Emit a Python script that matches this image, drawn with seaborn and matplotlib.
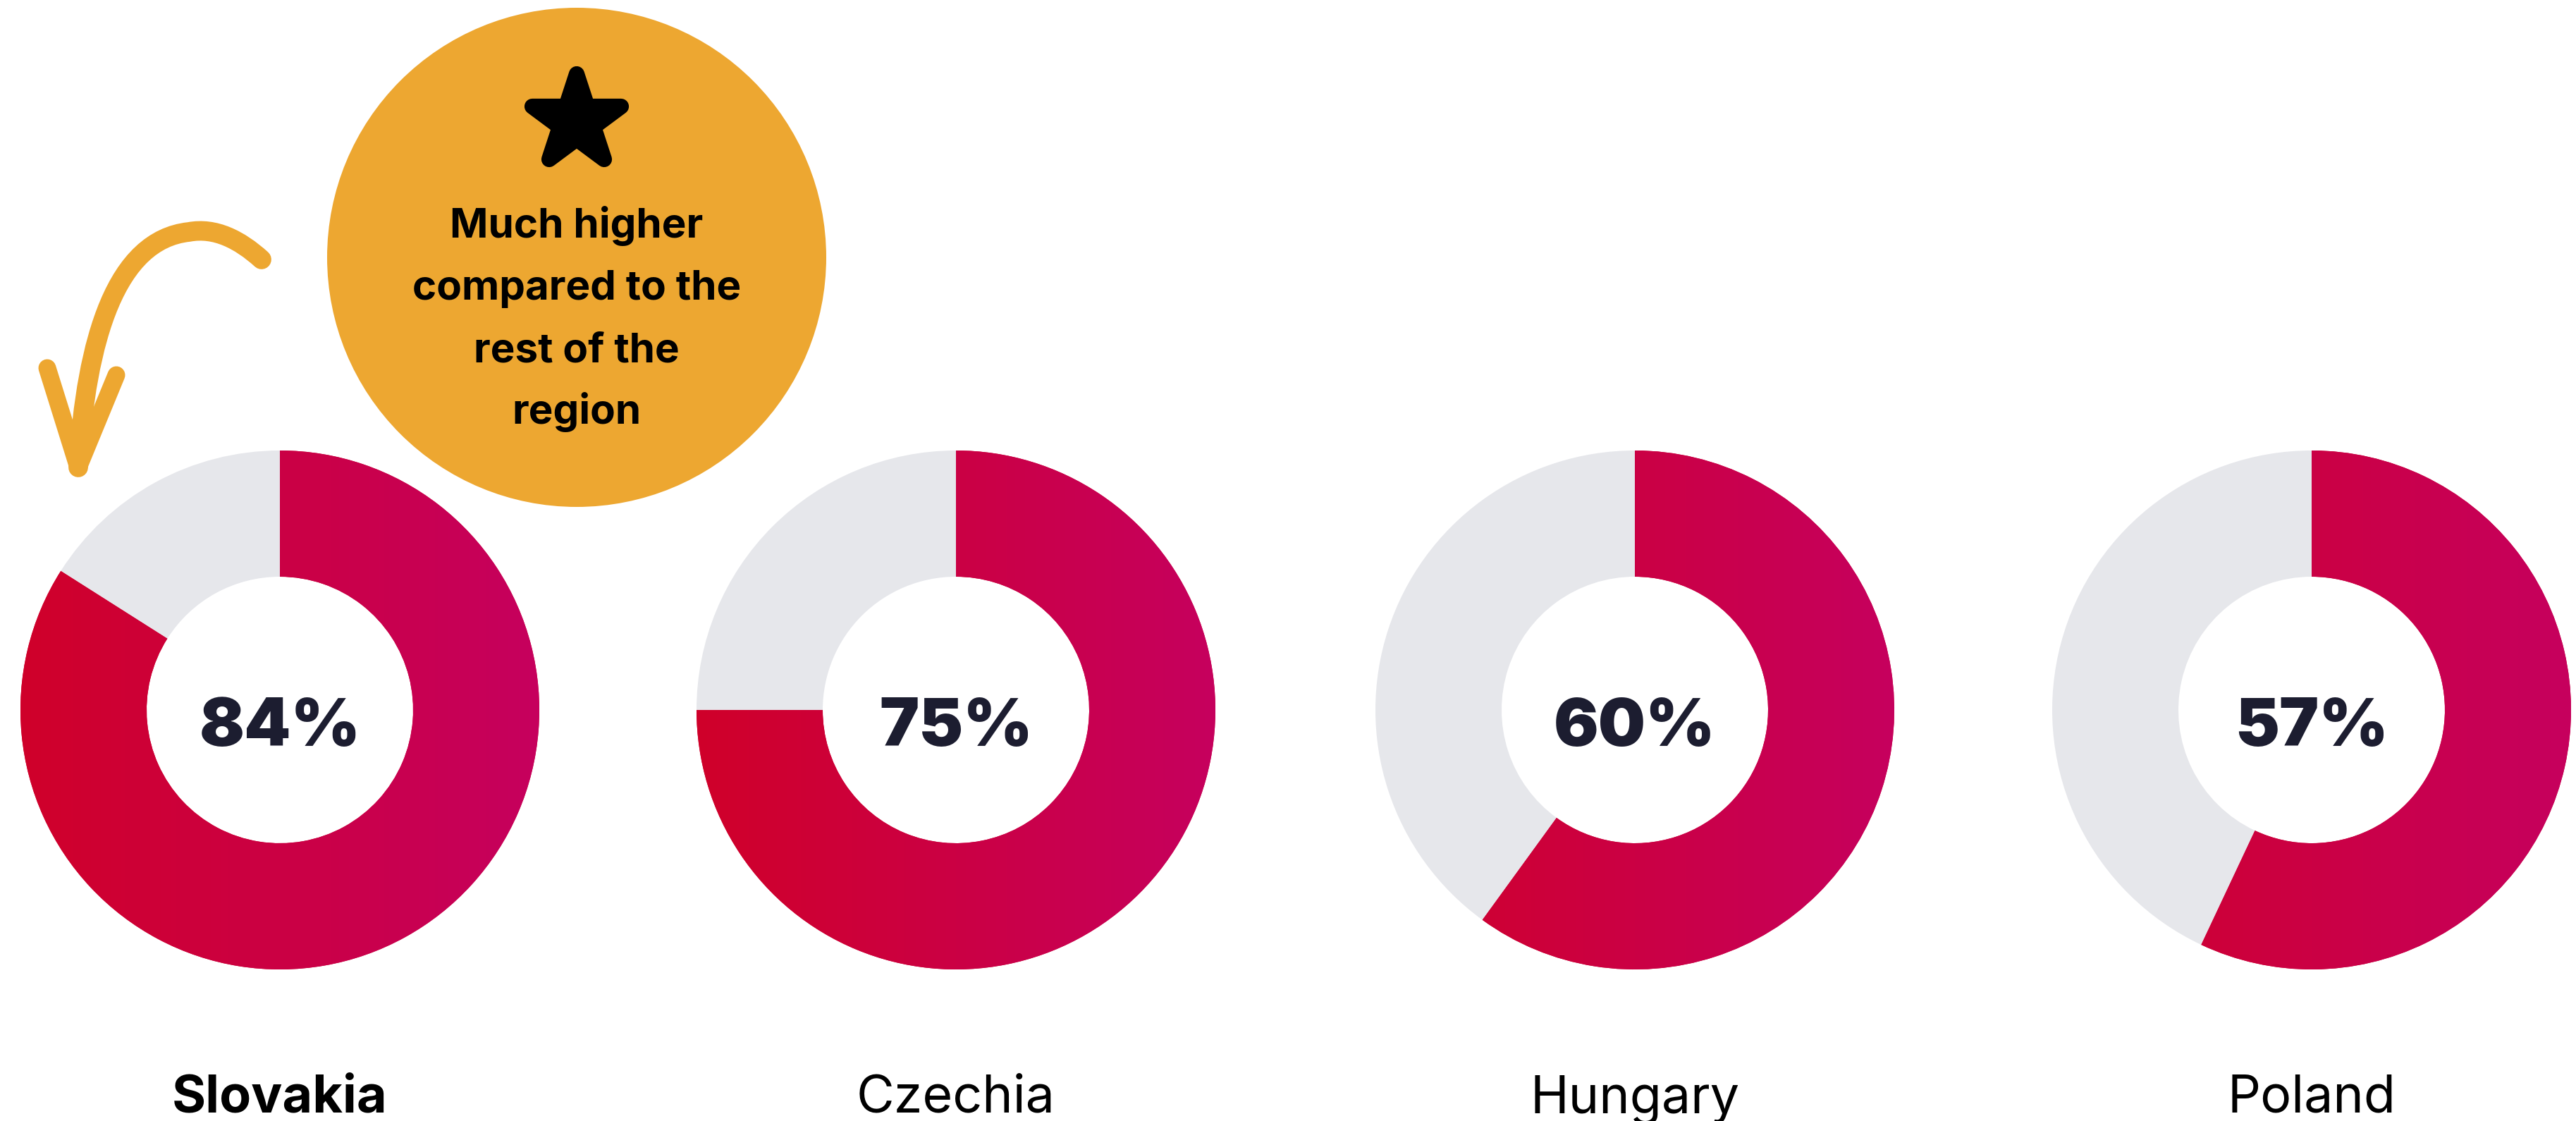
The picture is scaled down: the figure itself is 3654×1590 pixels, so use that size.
"""Donut row: share per country, Slovakia highlighted with a callout bubble."""

import matplotlib

matplotlib.use("Agg")
import matplotlib.pyplot as plt
import numpy as np
import seaborn as sns
from matplotlib.colors import to_rgb
from matplotlib.markers import MarkerStyle
from matplotlib.patches import Circle, PathPatch
from matplotlib.path import Path

# ---------------------------------------------------------------------------
# data
# ---------------------------------------------------------------------------
countries = ["Slovakia", "Czechia", "Hungary", "Poland"]
shares = [84, 75, 60, 57]
highlight = "Slovakia"
callout = ["Much higher", "compared to the", "rest of the", "region"]

# ---------------------------------------------------------------------------
# style
# ---------------------------------------------------------------------------
W, H = 3654, 1590
RED_L, RED_R = "#D0002A", "#C6005E"
GREY = "#E6E7EB"
ORANGE = "#EDA731"
INK = "#1C1D30"

sns.set_theme(style="white")
plt.rcParams["font.family"] = ["Inter", "DejaVu Sans"]


def fy(y):
    # pixel row (from top) -> data y (from bottom)
    return H - y


fig = plt.figure(figsize=(W / 100, H / 100), dpi=100)
ax = fig.add_axes([0, 0, 1, 1])
ax.set_axis_off()

centers_x = [397, 1356, 2319, 3279]
cy = fy(1007)
R_OUT, R_IN = 368, 189

grad = np.linspace(0, 1, 256)[None, :, None]
grad = (1 - grad) * np.array(to_rgb(RED_L)) + grad * np.array(to_rgb(RED_R))

for name, val, cx in zip(countries, shares, centers_x):
    wedges, _ = ax.pie(
        [val, 100 - val], startangle=90, counterclock=False,
        colors=[RED_L, GREY], radius=R_OUT, center=(cx, cy),
        wedgeprops=dict(width=R_OUT - R_IN, linewidth=0),
        frame=True,
    )
    im = ax.imshow(grad, extent=(cx - R_OUT, cx + R_OUT, cy - R_OUT, cy + R_OUT),
                   aspect="auto", zorder=2)
    im.set_clip_path(wedges[0])
    ax.text(cx, fy(1058), f"{val}%", ha="center", va="baseline",
            fontsize=68, fontweight="black", color=INK, zorder=3)
    ax.text(cx, fy(1578), name, ha="center", va="baseline", fontsize=53,
            fontweight="bold" if name == highlight else "normal", color="black")

# callout bubble
bx, by = 818, 365
ax.add_patch(Circle((bx, fy(by)), 354, color=ORANGE, linewidth=0, zorder=1))
ax.plot([bx], [fy(172)], marker=MarkerStyle("*", joinstyle="round"),
        markersize=96, color="black", mew=16, zorder=3)
for i, line in enumerate(callout):
    ax.text(bx, fy(337 + i * 88), line, ha="center", va="baseline",
            fontsize=42, fontweight="bold", color="black", zorder=3)

# hand-drawn arrow pointing at the Slovakia donut
verts = [(371, 368), (340, 340), (305, 322), (268, 329),
         (165, 340), (122, 480), (111, 663)]
codes = [Path.MOVETO] + [Path.CURVE4] * 6
arrow = Path([(x, fy(y)) for x, y in verts], codes)
ax.add_patch(PathPatch(arrow, facecolor="none", edgecolor=ORANGE, lw=20,
                       capstyle="round", joinstyle="round", zorder=3))
for ex, ey in [(67, 522), (165, 532)]:
    ax.plot([111, ex], [fy(663), fy(ey)], color=ORANGE, lw=18,
            solid_capstyle="round", zorder=3)

ax.set_xlim(0, W)
ax.set_ylim(0, H)
ax.set_aspect("equal")
ax.set_axis_off()
fig.savefig("out.png", dpi=100)
